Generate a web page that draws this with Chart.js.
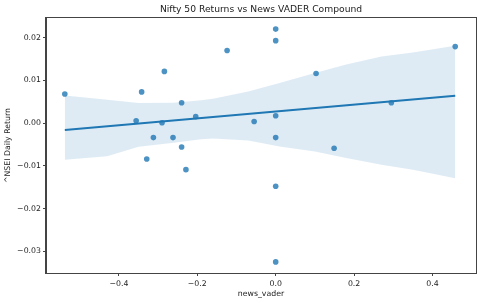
<!DOCTYPE html>
<html>
<head>
<meta charset="utf-8">
<script src="https://cdn.jsdelivr.net/npm/chart.js@4"></script>
<style>
  html, body { margin: 0; padding: 0; background: #fff; }
</style>
</head>
<body>
<canvas id="chart" width="480" height="303"></canvas>
<script>
// scatter points: news_vader vs ^NSEI daily return
const newsVader = [-0.538, -0.342, -0.284, -0.240, -0.356, -0.290, -0.312, -0.262,
  -0.240, -0.329, -0.229, -0.204, -0.124, 0, 0, 0.103, -0.055, 0, 0, 0.458,
  0.295, 0.149, 0, 0]
const nseiReturn = [0.0068, 0.0073, 0.0121, 0.00475, 0.00054, 0.00007, -0.0034, -0.0034,
  -0.0056, -0.0084, -0.0109, 0.0015, 0.0170, 0.0220, 0.0193, 0.0116, 0.00037, 0.0017,
  -0.0034, 0.0179, 0.00475, -0.0059, -0.0148, -0.0325]

// fitted line end points
const fitX = [-0.538, 0.458]
const fitY = [-0.00164, 0.0064]

// confidence band edges
const bandX = [-0.538, -0.43, -0.35, -0.26, -0.19, -0.16, -0.07, 0.01, 0.10, 0.18, 0.27, 0.35, 0.458]
const bandUpper = [0.00646, 0.00545, 0.00468, 0.00475, 0.00534, 0.00569, 0.0074, 0.00936,
  0.0117, 0.0137, 0.0156, 0.0165, 0.0181]
const bandLower = [-0.00859, -0.00777, -0.00555, -0.00461, -0.00379, -0.0036, -0.00407,
  -0.00548, -0.00665, -0.00819, -0.00976, -0.0109, -0.0129]

// tick labels
const xTicks = [-0.4, -0.2, 0.0, 0.2, 0.4]
const yTicks = [-0.03, -0.02, -0.01, 0.00, 0.01, 0.02]

const titleText = 'Nifty 50 Returns vs News VADER Compound'

const blue = '#1f77b4'
const ink = '#222'
const spine = '#444'
const font = 'DejaVu Sans'
const tickSize = 7.8

const pts = (xs, ys) => xs.map((x, i) => ({ x: x, y: ys[i] }))
const fmt = (v, d) => (v < 0 ? '\u2212' : '') + Math.abs(v).toFixed(d)

// full box round the plot plus the title centred on it
const frame = {
  id: 'frame',
  afterDraw(chart) {
    const a = chart.chartArea
    const c = chart.ctx
    c.save()
    c.strokeStyle = spine
    c.lineWidth = 1
    c.strokeRect(Math.round(a.left) - 0.5, Math.round(a.top) - 0.5,
      Math.round(a.right - a.left) + 1, Math.round(a.bottom - a.top) + 1)
    c.fillStyle = ink
    c.font = '9.2px "DejaVu Sans"'
    c.textAlign = 'center'
    c.textBaseline = 'middle'
    c.fillText(titleText, (a.left + a.right) / 2, 10)
    c.restore()
  }
}

const ctx = document.getElementById('chart').getContext('2d')

new Chart(ctx, {
  type: 'scatter',
  data: {
    datasets: [
      {
        label: 'upper',
        data: pts(bandX, bandUpper),
        showLine: true,
        borderWidth: 0,
        pointRadius: 0,
        backgroundColor: 'rgba(31,119,180,0.15)',
        fill: '+1',
        order: 3
      },
      {
        label: 'lower',
        data: pts(bandX, bandLower),
        showLine: true,
        borderWidth: 0,
        pointRadius: 0,
        fill: false,
        order: 3
      },
      {
        label: 'fit',
        data: pts(fitX, fitY),
        showLine: true,
        borderColor: blue,
        borderWidth: 2,
        pointRadius: 0,
        fill: false,
        order: 2
      },
      {
        label: 'points',
        data: pts(newsVader, nseiReturn),
        backgroundColor: 'rgba(31,119,180,0.8)',
        borderWidth: 0,
        pointRadius: 2.8,
        order: 1
      }
    ]
  },
  options: {
    responsive: false,
    animation: false,
    devicePixelRatio: 1,
    layout: { padding: { left: 0, right: 4, top: 18, bottom: 0 } },
    plugins: {
      legend: { display: false },
      tooltip: { enabled: false },
      title: { display: false }
    },
    scales: {
      x: {
        type: 'linear',
        min: -0.586,
        max: 0.511,
        afterBuildTicks: s => { s.ticks = xTicks.map(v => ({ value: v })) },
        afterFit: s => { s.height = 30 },
        grid: { drawOnChartArea: false, drawTicks: true, tickLength: 3, color: spine },
        border: { display: true, color: spine, width: 1 },
        ticks: {
          color: ink,
          padding: 3,
          maxRotation: 0,
          font: { family: font, size: tickSize },
          callback: v => fmt(v, 1)
        },
        title: {
          display: true,
          text: 'news_vader',
          color: ink,
          font: { family: font, size: tickSize },
          padding: { top: 0, bottom: 4 }
        }
      },
      y: {
        type: 'linear',
        min: -0.0351,
        max: 0.0246,
        afterBuildTicks: s => { s.ticks = yTicks.map(v => ({ value: v })) },
        afterFit: s => { s.width = 46 },
        grid: { drawOnChartArea: false, drawTicks: true, tickLength: 3, color: spine },
        border: { display: true, color: spine, width: 1 },
        ticks: {
          color: ink,
          padding: 2,
          font: { family: font, size: tickSize },
          callback: v => fmt(v, 2)
        },
        title: {
          display: true,
          text: '^NSEI Daily Return',
          color: ink,
          font: { family: font, size: tickSize },
          padding: { top: 3, bottom: 0 }
        }
      }
    }
  },
  plugins: [frame]
})
</script>
</body>
</html>
